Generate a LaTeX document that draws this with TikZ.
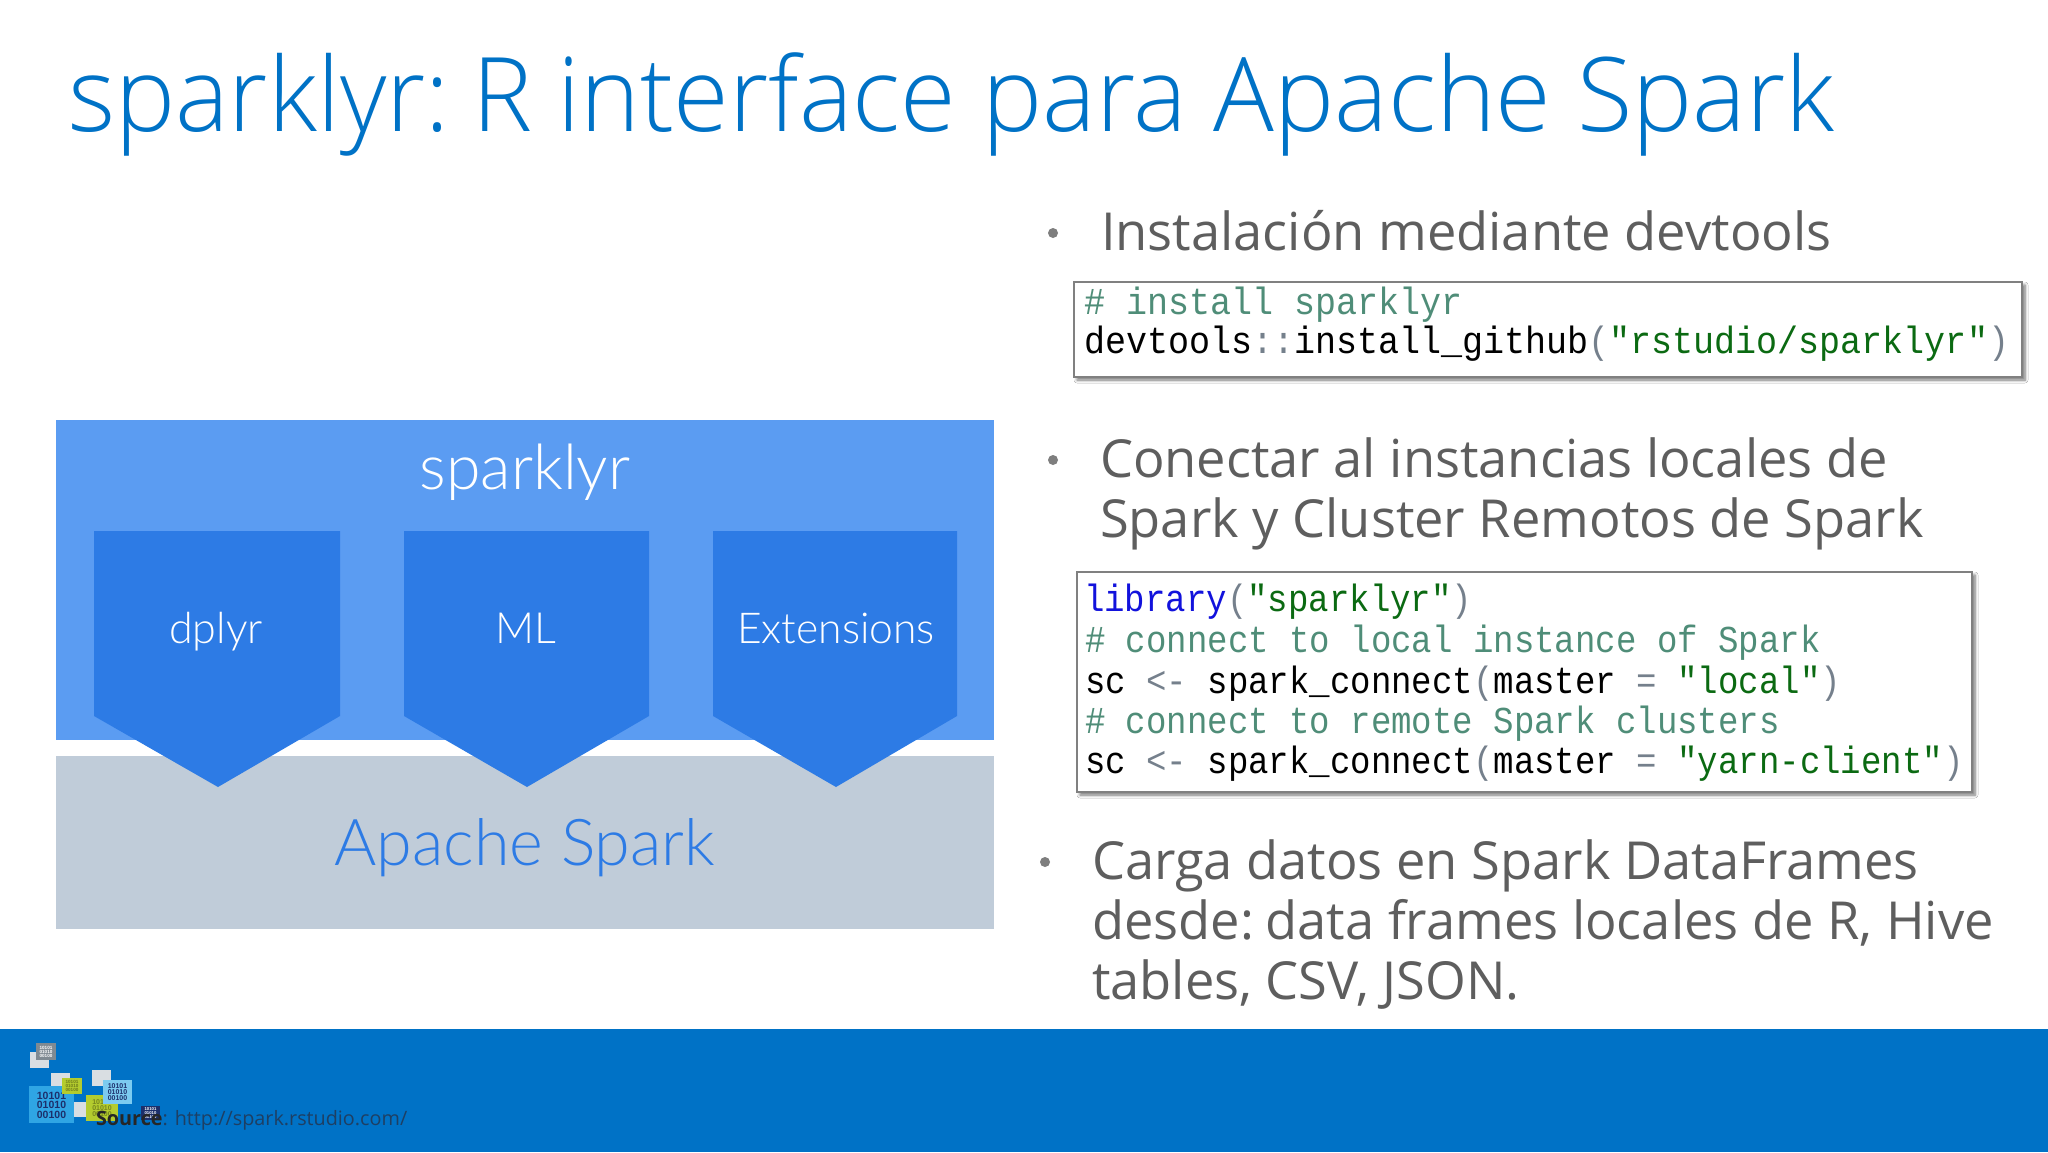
\documentclass[tikz,border=0pt]{standalone}
\usepackage{fontspec}
\usetikzlibrary{shadows.blur}
\setmainfont{Open Sans}
\newfontfamily\titlefont[FakeStretch=0.982]{Open Sans Light}
\newfontfamily\diafont{Lato Light}
\newfontfamily\codefonta[FakeStretch=0.922]{Liberation Mono}
\newfontfamily\codefontb[FakeStretch=0.896]{Liberation Mono}
\newfontfamily\logofont{Liberation Sans}[BoldFont={Liberation Sans Bold}]
\definecolor{titleblue}{HTML}{0072C6}
\definecolor{bodygray}{HTML}{5E5E5E}
\definecolor{sparkblue}{HTML}{5B9CF2}
\definecolor{arrowblue}{HTML}{2D7BE5}
\definecolor{sparkgray}{HTML}{C0CCD9}
\definecolor{cmt}{HTML}{4F8D78}
\definecolor{str}{HTML}{0B6A12}
\definecolor{kw}{HTML}{1212DC}
\definecolor{punc}{HTML}{75808C}
\definecolor{logolight}{HTML}{D9DEE2}
\definecolor{logogreen}{HTML}{B4CC2E}
\definecolor{logoblue}{HTML}{2FA5E4}
\definecolor{logosky}{HTML}{7CCBF0}
\definecolor{logogray}{HTML}{7F8A92}
\definecolor{logonavy}{HTML}{1C2F6B}
\definecolor{sourcetext}{HTML}{1E3F63}
\newcommand{\fs}[1]{\fontsize{#1}{#1}\selectfont}
\newcommand{\Cm}[1]{\textcolor{cmt}{#1}}
\newcommand{\St}[1]{\textcolor{str}{#1}}
\newcommand{\Pu}[1]{\textcolor{punc}{#1}}
\tikzset{
  txt/.style={inner sep=0pt,outer sep=0pt,anchor=base west},
  ctr/.style={inner sep=0pt,outer sep=0pt,anchor=base},
  bodytext/.style={txt,text=bodygray,font=\fs{52.4}},
  bulletdot/.style={circle,fill=bodygray!80,minimum size=10pt,inner sep=0pt},
  codelinea/.style={txt,text=black,font=\codefonta\fs{38}},
  codelineb/.style={txt,text=black,font=\codefontb\fs{38}},
  codebox/.style={draw=black!50,line width=1.1pt,fill=white,blur shadow={shadow xshift=3pt,shadow yshift=-3pt,shadow blur steps=6,shadow blur radius=3pt,shadow opacity=55}},
  arrowshape/.style={fill=arrowblue},
  tile/.style={inner sep=0pt,outer sep=0pt},
}
\begin{document}
\begin{tikzpicture}[x=1pt,y=-1pt]
\useasboundingbox (0,0) rectangle (2048,1152);
\fill[white] (0,0) rectangle (2048,1152);
% footer
\fill[titleblue] (0,1029) rectangle (2048,1152);
% title
\node[txt,text=titleblue,font=\titlefont\fs{103}] (title) at (68,131) {sparklyr:\kern-4pt\ R\kern-1pt\ interface para Apache Spark};
% diagram
\fill[sparkblue] (56,420) rectangle (994,740);
\fill[sparkgray] (56,756) rectangle (994,929);
\foreach \a/\b/\m in {94/340/218,404/649/527,713/957/836}
  \fill[arrowshape] (\a,531) -- (\b,531) -- (\b,716) -- (\m,787) -- (\a,716) -- cycle;
\node[ctr,text=white,font=\diafont\fs{62.6}] (sparklyrlabel) at (525,489) {sparklyr};
\node[ctr,text=white,font=\diafont\fs{43}] (dplyrlabel) at (216,643) {dplyr};
\node[ctr,text=white,font=\diafont\fs{43}] (mllabel) at (525.5,643) {ML};
\node[ctr,text=white,font=\diafont\fs{42.6}] (extlabel) at (836,643) {Extensions};
\node[ctr,text=arrowblue,font=\diafont\fs{64.6}] (apachelabel) at (525,865) {Apache Spark};
% bullets
\node[bulletdot] (b1) at (1053,233) {};
\node[bodytext] (t1) at (1101,250.5) {Instalación mediante devtools};
\node[bulletdot] (b2) at (1053,460) {};
\node[bodytext] (t2a) at (1100,477) {Conectar al instancias locales de};
\node[bodytext] (t2b) at (1100,537) {Spark y Cluster Remotos de Spark};
\node[bulletdot] (b3) at (1045,862) {};
\node[bodytext] (t3a) at (1092,879) {Carga datos en Spark DataFrames};
\node[bodytext] (t3b) at (1092,939) {desde:\kern-2pt\ data frames locales de R, Hive};
\node[bodytext] (t3c) at (1092,999) {tables, CSV, JSON.};
% code box 1
\draw[codebox] (1074,282) rectangle (2022,377);
\node[codelinea] (c1) at (1084,314) {\Cm{\# install sparklyr}};
\node[codelinea] (c2) at (1084,353) {devtools\Pu{::}install\_github\Pu{(}\St{"rstudio/sparklyr"}\Pu{)}};
% code box 2
\draw[codebox] (1077,572) rectangle (1972,792);
\node[codelineb] (d1) at (1084,611) {\textcolor{kw}{library}\Pu{(}\St{"sparklyr"}\Pu{)}};
\node[codelineb] (d2) at (1085,652) {\Cm{\# connect to local instance of Spark}};
\node[codelineb] (d3) at (1085,693) {sc \Pu{<-} spark\_connect\Pu{(}master \Pu{=} \St{"local"}\Pu{)}};
\node[codelineb] (d4) at (1085,733) {\Cm{\# connect to remote Spark clusters}};
\node[codelineb] (d5) at (1085,773) {sc \Pu{<-} spark\_connect\Pu{(}master \Pu{=} \St{"yarn-client"}\Pu{)}};
% logo
\fill[logolight] (30,1052) rectangle (49,1068);
\fill[logogray] (36,1043) rectangle (56,1060);
\node[tile,text=white,font=\logofont\bfseries\fs{4.6},align=center] (lg1) at (46,1051.5) {10101\\[-.5pt]01010\\[-.5pt]00100};
\fill[logolight] (51,1073) rectangle (70,1090);
\fill[logolight] (92,1070) rectangle (111,1086);
\fill[logolight] (73,1102) rectangle (92,1117);
\fill[logoblue] (29,1086) rectangle (74,1123);
\node[tile,text=logonavy,font=\logofont\bfseries\fs{10.5},align=center] (lg2) at (51.5,1105) {10101\\[-1pt]01010\\[-1pt]00100};
\fill[logogreen] (62,1078) rectangle (82,1094);
\node[tile,text=logogreen!60!black,font=\logofont\bfseries\fs{4.6},align=center] (lg3) at (72,1086) {10101\\[-.5pt]01010\\[-.5pt]00100};
\fill[logogreen] (86,1095) rectangle (118,1121);
\node[tile,text=logogreen!65!black,font=\logofont\bfseries\fs{7},align=center] (lg4) at (102,1108) {10101\\[-1pt]01010\\[-1pt]00100};
\fill[logosky] (103,1080) rectangle (132,1104);
\node[tile,text=logonavy,font=\logofont\bfseries\fs{7},align=center] (lg5) at (117.5,1092) {10101\\[-1pt]01010\\[-1pt]00100};
\fill[logonavy] (141,1106) rectangle (160,1120);
\node[tile,text=white,font=\logofont\bfseries\fs{4.2},align=center] (lg6) at (150.5,1113) {10101\\[-.5pt]01010\\[-.5pt]00100};
% source
\node[txt,text=sourcetext,font=\fs{19.8}] (source) at (96,1125) {\textcolor{black!85}{\textbf{Source}}: http://spark.rstudio.com/};
\end{tikzpicture}
\end{document}
